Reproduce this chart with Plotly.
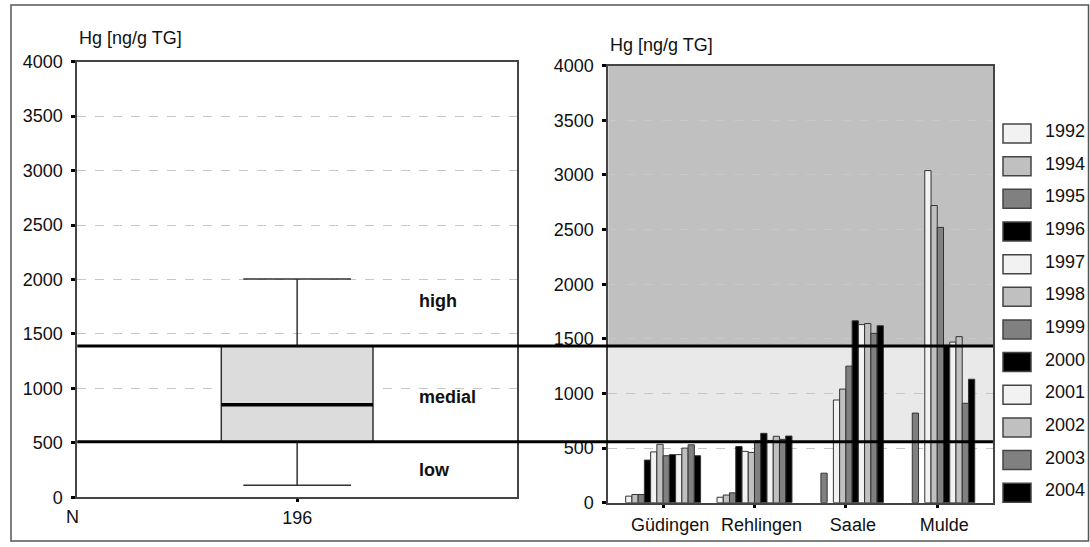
import plotly.graph_objects as go

W, H = 1090, 547

# ---------------- data ----------------
sites = ["Güdingen", "Rehlingen", "Saale", "Mulde"]
years = ["1992", "1994", "1995", "1996", "1997", "1998",
         "1999", "2000", "2001", "2002", "2003", "2004"]
guedingen = [60, 75, 75, 390, 465, 535, 430, 440, 440, 500, 530, 430]
rehlingen = [50, 70, 90, 515, 470, 460, 565, 635, 570, 608, 580, 610]
saale = [None, None, 270, None, 940, 1040, 1250, 1665, 1630, 1640, 1550, 1620]
mulde = [None, None, 820, None, 3040, 2720, 2520, 1440, 1470, 1520, 910, 1130]

box_label = ["196"]
box_q1 = [510]
box_median = [850]
box_q3 = [1390]
box_lower = [110]
box_upper = [2005]

class_limits_left = [510, 1390]      # low/medial, medial/high (left scale)
class_limits_right = [556, 1430]     # same limits as drawn on the right panel
class_names = ["low", "medial", "high"]
class_label_pos = [249, 924, 1805]

palette = ["#f2f2f2", "#c0c0c0", "#808080", "#000000"]
site_values = [guedingen, rehlingen, saale, mulde]

# ---------------- figure ----------------
fig = go.Figure()

fig.add_trace(go.Box(
    x=box_label, q1=box_q1, median=box_median, q3=box_q3,
    lowerfence=box_lower, upperfence=box_upper,
    width=0.345, whiskerwidth=0.71,
    fillcolor="#dcdcdc", line=dict(color="#333333", width=1.5),
    xaxis="x", yaxis="y", showlegend=False, hoverinfo="skip",
))

for i, yr in enumerate(years):
    fig.add_trace(go.Bar(
        x=sites, y=[vals[i] for vals in site_values], name=yr,
        marker=dict(color=palette[i % 4], line=dict(color="#333333", width=1)),
        xaxis="x2", yaxis="y2", showlegend=False,
    ))

font_family = "Liberation Sans, Arial, sans-serif"
axis_common = dict(
    showline=True, linecolor="#444444", linewidth=2, mirror=True,
    ticks="outside", tickcolor="#000000", tickwidth=3, automargin=False,
    tickfont=dict(size=18, color="#111111"), zeroline=False,
)

fig.update_layout(
    width=W, height=H, autosize=False,
    margin=dict(l=0, r=0, t=0, b=0, pad=0, autoexpand=False),
    paper_bgcolor="white", plot_bgcolor="white",
    font=dict(family=font_family, size=18, color="#111111"),
    barmode="group", bargap=0.18, bargroupgap=0,
    showlegend=False,
    xaxis=dict(domain=[77.3 / W, 517 / W], type="category", range=[-0.5, 0.5],
               ticklen=3, showgrid=False, anchor="y", **axis_common),
    yaxis=dict(domain=[1 - 497.3 / H, 1 - 61.7 / H], range=[0, 4000], dtick=500,
               ticklen=4, ticklabelstandoff=5, showgrid=True, gridcolor="#c8c8c8",
               griddash="dash", gridwidth=1, anchor="x", **axis_common),
    xaxis2=dict(domain=[608.3 / W, 993 / W], type="category", range=[-0.6, 3.61],
                ticklen=3, ticklabelshift=7, ticklabelstandoff=2,
                showgrid=False, anchor="y2", **axis_common),
    yaxis2=dict(domain=[1 - 502.7 / H, 1 - 65.7 / H], range=[0, 4000], dtick=500,
                ticklen=4, ticklabelstandoff=5, showgrid=True, gridcolor="#c8c8c8",
                griddash="dash", gridwidth=1, anchor="x2", **axis_common),
)

shapes = []
# background bands of the right panel
shapes.append(dict(type="rect", xref="x2 domain", yref="y2", x0=0, x1=1,
                   y0=class_limits_right[0], y1=class_limits_right[1],
                   fillcolor="#e9e9e9", line=dict(width=0), layer="below"))
shapes.append(dict(type="rect", xref="x2 domain", yref="y2", x0=0, x1=1,
                   y0=class_limits_right[1], y1=4000,
                   fillcolor="#c0c0c0", line=dict(width=0), layer="below"))
# median line (thick)
shapes.append(dict(type="line", xref="x", yref="y", x0=-0.1725, x1=0.1725,
                   y0=box_median[0], y1=box_median[0],
                   line=dict(color="#000000", width=3.5)))
# class limit lines across both panels
for v in class_limits_left:
    shapes.append(dict(type="line", xref="paper", yref="y",
                       x0=77.3 / W, x1=993 / W, y0=v, y1=v,
                       line=dict(color="#000000", width=3)))
# outer frame
shapes.append(dict(type="rect", xref="paper", yref="paper",
                   x0=11 / W, x1=1088.5 / W, y0=1 - 541 / H, y1=1 - 5 / H,
                   line=dict(color="#555555", width=1.5), fillcolor="rgba(0,0,0,0)"))

annotations = []
# custom legend
for i, yr in enumerate(years):
    top = 124 + i * 32.66
    shapes.append(dict(type="rect", xref="paper", yref="paper",
                       x0=1003 / W, x1=1031 / W, y0=1 - (top + 19) / H, y1=1 - top / H,
                       fillcolor=palette[i % 4], line=dict(color="#444444", width=1.5)))
    annotations.append(dict(text=yr, xref="paper", yref="paper",
                            x=1043 / W, y=1 - (top + 7) / H, xanchor="left", yanchor="middle",
                            showarrow=False, font=dict(size=18)))

for name, ypos in zip(class_names, class_label_pos):
    annotations.append(dict(text=f"<b>{name}</b>", xref="x domain", yref="y",
                            x=0.772, y=ypos, xanchor="left", yanchor="middle",
                            showarrow=False, font=dict(size=18)))

annotations.append(dict(text="Hg [ng/g TG]", xref="paper", yref="paper",
                        x=77.3 / W, y=1 - 38.3 / H, xanchor="left", yanchor="middle",
                        showarrow=False, font=dict(size=18)))
annotations.append(dict(text="Hg [ng/g TG]", xref="paper", yref="paper",
                        x=608.3 / W, y=1 - 45 / H, xanchor="left", yanchor="middle",
                        showarrow=False, font=dict(size=18)))
annotations.append(dict(text="N", xref="paper", yref="paper",
                        x=72.5 / W, y=1 - 516.7 / H, xanchor="center", yanchor="middle",
                        showarrow=False, font=dict(size=18)))

fig.update_layout(shapes=shapes, annotations=annotations)

fig.write_html(
    "out.html",
    config={"displayModeBar": False},
    post_script="document.body.style.margin='0px';document.body.style.overflow='hidden';"
                "document.documentElement.style.overflow='hidden';",
)
